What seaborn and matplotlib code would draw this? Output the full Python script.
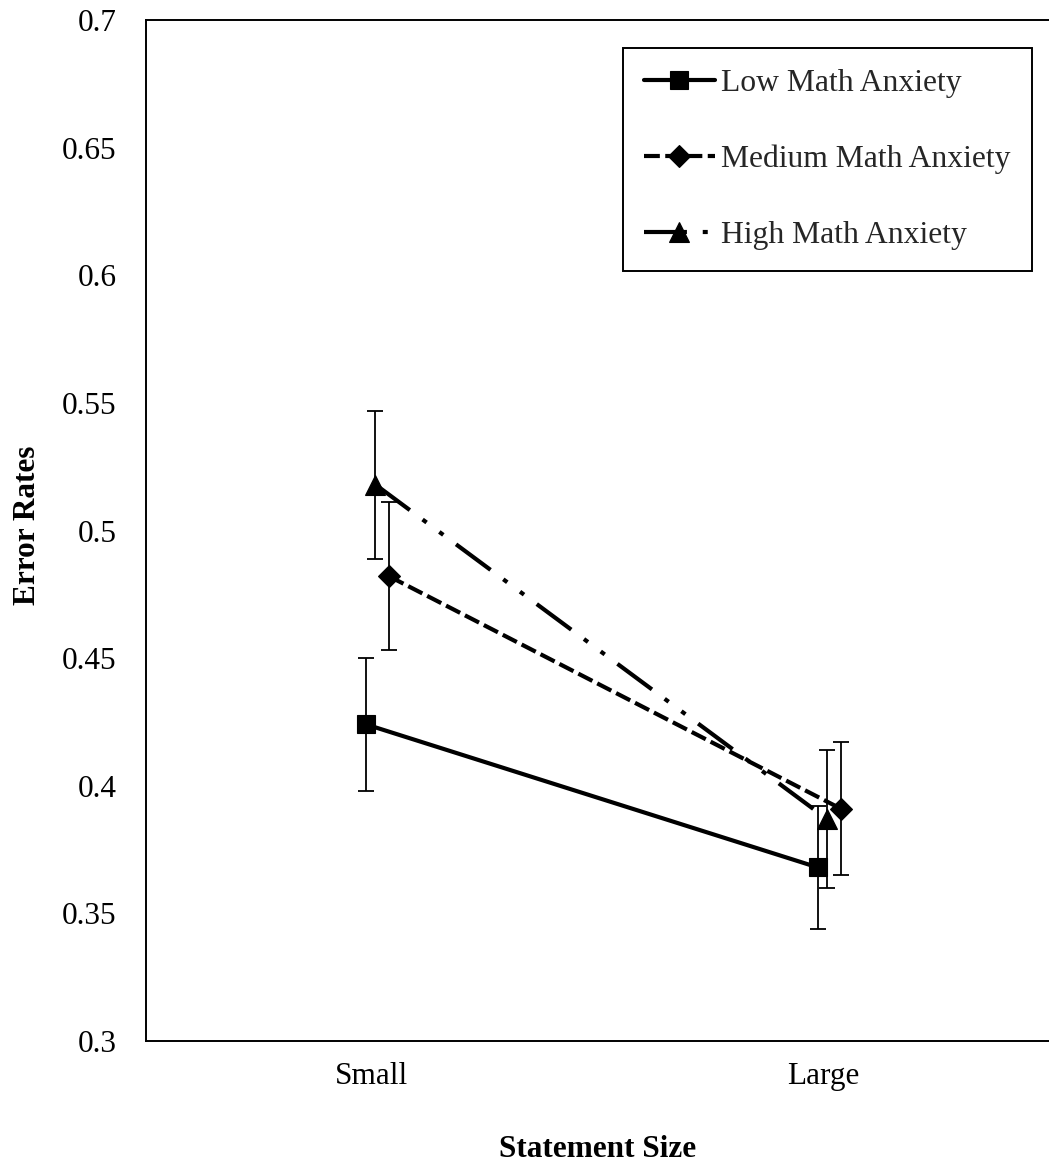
import matplotlib
matplotlib.use("Agg")
import matplotlib.pyplot as plt
import seaborn as sns
import pandas as pd
import numpy as np

# ---- data ----
categories = ["Small", "Large"]
groups = ["Low Math Anxiety", "Medium Math Anxiety", "High Math Anxiety"]
low_vals = [0.424, 0.368]
low_err = [0.026, 0.024]
medium_vals = [0.482, 0.391]
medium_err = [0.029, 0.026]
high_vals = [0.518, 0.387]
high_err = [0.029, 0.027]
y_ticks = [0.3, 0.35, 0.4, 0.45, 0.5, 0.55, 0.6, 0.65, 0.7]
y_tick_labels = ["0.3", "0.35", "0.4", "0.45", "0.5", "0.55", "0.6", "0.65", "0.7"]
x_label = "Statement Size"
y_label = "Error Rates"

sns.set_theme(style="white")
plt.rcParams["font.family"] = ["Liberation Serif", "DejaVu Serif"]

fig = plt.figure(figsize=(10.49, 11.68), dpi=100)
ax = fig.add_axes([146 / 1049, 127 / 1168, 903 / 1049, 1021 / 1168])

series = {
    "Low Math Anxiety": (low_vals, low_err),
    "Medium Math Anxiety": (medium_vals, medium_err),
    "High Math Anxiety": (high_vals, high_err),
}
styles = {
    "Low Math Anxiety": dict(offset=-0.012, ls="-", marker="s", ms=12.5),
    "Medium Math Anxiety": dict(offset=0.039, ls=(0, (3.8, 1.3)), marker="D", ms=11),
    "High Math Anxiety": dict(offset=0.008, ls=(0, (10.3, 3.8, 1.2, 3.8, 1.2, 3.8)),
                              marker="^", ms=14),
}

xbase = np.arange(len(categories))
for g in groups:
    vals, errs = series[g]
    st = styles[g]
    xs = xbase + st["offset"]
    df = pd.DataFrame({"x": xs, "y": vals})
    ax.errorbar(xs, vals, yerr=errs, fmt="none", ecolor="black",
                elinewidth=1.3, capsize=5.8, capthick=1.3, zorder=2)
    sns.lineplot(data=df, x="x", y="y", ax=ax, color="black", linewidth=3,
                 linestyle=st["ls"], marker=st["marker"], markersize=st["ms"],
                 markeredgecolor="black", markerfacecolor="black",
                 markeredgewidth=0.8, label=g, zorder=3, sort=False)

ax.set_xlim(-0.5, 1.5)
ax.set_ylim(0.3, 0.7)
ax.set_xticks(xbase)
ax.set_xticklabels(categories)
ax.set_yticks(y_ticks)
ax.set_yticklabels(y_tick_labels)
ax.tick_params(axis="both", length=0, labelsize=22.5, colors="black")
ax.tick_params(axis="y", pad=21)
ax.tick_params(axis="x", pad=15)

ax.set_xlabel(x_label, fontsize=22.5, fontweight="bold", color="black")
ax.set_ylabel(y_label, fontsize=22.5, fontweight="bold", color="black")
ax.xaxis.set_label_coords(0.5, -0.092)
ax.yaxis.set_label_coords(-0.115, 0.505)

for side in ["left", "bottom", "top"]:
    ax.spines[side].set_visible(True)
    ax.spines[side].set_color("black")
    ax.spines[side].set_linewidth(1.4)
ax.spines["right"].set_visible(False)
ax.grid(False)

leg = ax.legend(loc="upper right", bbox_to_anchor=(0.981, 0.9726),
                fontsize=22.8, frameon=True, fancybox=False,
                handlelength=2.27, handletextpad=0.19, labelspacing=1.47,
                borderpad=0.66, borderaxespad=0, numpoints=1)
leg.get_frame().set_edgecolor("black")
leg.get_frame().set_linewidth(1.4)
leg.get_frame().set_alpha(1)

fig.savefig("out.png", dpi=100)
